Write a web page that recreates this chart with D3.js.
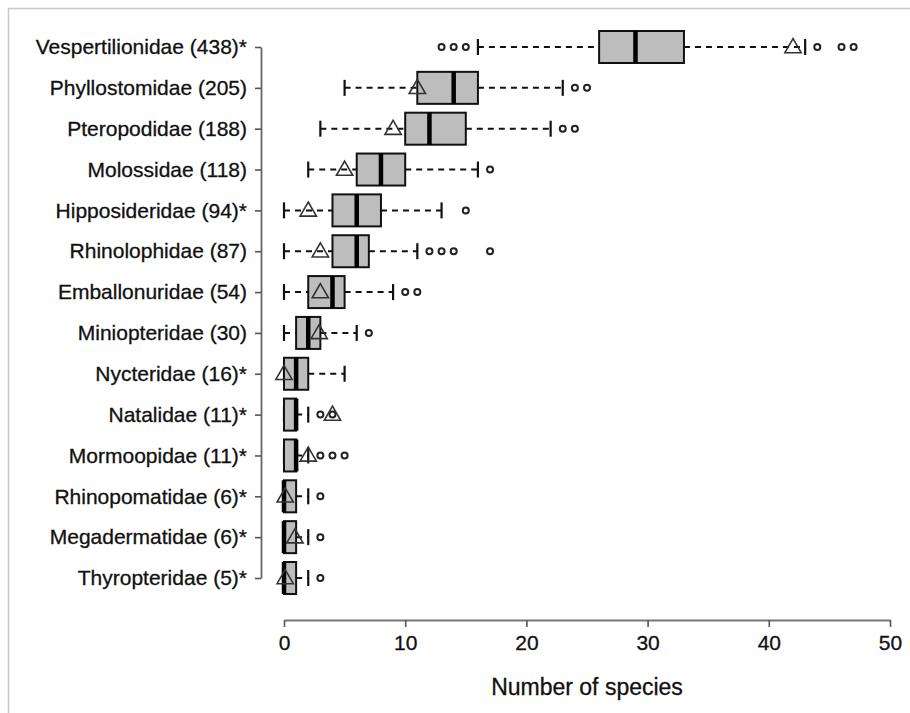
<!DOCTYPE html>
<html>
<head>
<meta charset="utf-8">
<script src="https://cdn.jsdelivr.net/npm/d3@7"></script>
<style>
  body { margin: 0; background: #fff; }
  svg { font-family: "Liberation Sans", Arial, sans-serif; }
</style>
</head>
<body>
<svg id="chart" width="910" height="713"></svg>
<script>
// families, top to bottom
const families = ["Vespertilionidae (438)*", "Phyllostomidae (205)", "Pteropodidae (188)",
  "Molossidae (118)", "Hipposideridae (94)*", "Rhinolophidae (87)", "Emballonuridae (54)",
  "Miniopteridae (30)", "Nycteridae (16)*", "Natalidae (11)*", "Mormoopidae (11)*",
  "Rhinopomatidae (6)*", "Megadermatidae (6)*", "Thyropteridae (5)*"];

const whiskerLow = [16, 5, 3, 2, 0, 0, 0, 0, 0, 0, 0, 0, 0, 0];
const q1 =         [26, 11, 10, 6, 4, 4, 2, 1, 0, 0, 0, 0, 0, 0];
const median =     [29, 14, 12, 8, 6, 6, 4, 2, 1, 1, 1, 0, 0, 0];
const q3 =         [33, 16, 15, 10, 8, 7, 5, 3, 2, 1, 1, 1, 1, 1];
const whiskerHigh = [43, 23, 22, 16, 13, 11, 9, 6, 5, 2, 2, 2, 2, 2];
const means =      [42, 11, 9, 5, 2, 3, 3, 2.9, 0, 4, 2, 0.1, 0.9, 0.1];
const outliers = [
  [13, 14, 15, 44, 46, 47],
  [24, 25],
  [23, 24],
  [17],
  [15],
  [12, 13, 14, 17],
  [10, 11],
  [7],
  [],
  [3, 4],
  [3, 4, 5],
  [3],
  [3],
  [3]
];
const xTicks = [0, 10, 20, 30, 40, 50];

const svg = d3.select("#chart");
const font = "Liberation Sans, Arial, sans-serif";

// light frame round the figure
svg.append("path")
  .attr("d", "M8.5,713V8.5H910")
  .attr("fill", "none")
  .attr("stroke", "#c8c8c8")
  .attr("stroke-width", 1.5);

const x = d3.scaleLinear().domain([0, 50]).range([284, 890]);
const y = d3.scalePoint().domain(families).range([47, 578]);
const boxH = 32;
const capH = 16;

const rows = families.map((f, i) => ({
  name: f, lo: whiskerLow[i], q1: q1[i], med: median[i], q3: q3[i],
  hi: whiskerHigh[i], mean: means[i], out: outliers[i]
}));

const g = svg.append("g");
const row = g.selectAll("g.row").data(rows).join("g")
  .attr("class", "row")
  .attr("transform", d => `translate(0,${y(d.name)})`);

// whiskers
row.append("line").attr("x1", d => x(d.lo)).attr("x2", d => x(d.q1))
  .attr("stroke", "#111").attr("stroke-width", 2).attr("stroke-dasharray", "6,5");
row.append("line").attr("x1", d => x(d.q3)).attr("x2", d => x(d.hi))
  .attr("stroke", "#111").attr("stroke-width", 2).attr("stroke-dasharray", "6,5");

// staples
row.append("line").attr("x1", d => x(d.lo)).attr("x2", d => x(d.lo))
  .attr("y1", -capH / 2).attr("y2", capH / 2).attr("stroke", "#111").attr("stroke-width", 2.2);
row.append("line").attr("x1", d => x(d.hi)).attr("x2", d => x(d.hi))
  .attr("y1", -capH / 2).attr("y2", capH / 2).attr("stroke", "#111").attr("stroke-width", 2.2);

// boxes
row.append("rect")
  .attr("x", d => x(d.q1)).attr("width", d => x(d.q3) - x(d.q1))
  .attr("y", -boxH / 2).attr("height", boxH)
  .attr("fill", "#bdbdbd").attr("stroke", "#111").attr("stroke-width", 2);

// median
row.append("line").attr("x1", d => x(d.med)).attr("x2", d => x(d.med))
  .attr("y1", -boxH / 2).attr("y2", boxH / 2).attr("stroke", "#000").attr("stroke-width", 4.5);

// outliers
row.selectAll("circle").data(d => d.out).join("circle")
  .attr("cx", v => x(v)).attr("r", 3)
  .attr("fill", "none").attr("stroke", "#222").attr("stroke-width", 2);

// means as open triangles
const tri = d3.symbol().type(d3.symbolTriangle).size(115);
row.append("path")
  .attr("d", tri)
  .attr("transform", d => `translate(${x(d.mean)},1)`)
  .attr("fill", "none").attr("stroke", "#333").attr("stroke-width", 1.6);

// y axis (bracket with ticks)
const yAxis = svg.append("g").attr("transform", "translate(261,0)")
  .call(d3.axisLeft(y).tickSize(6).tickPadding(8).tickSizeOuter(0));
yAxis.select(".domain").attr("stroke", "#666").attr("stroke-width", 1.8);
yAxis.selectAll(".tick line").attr("stroke", "#555").attr("stroke-width", 1.6);
yAxis.selectAll(".tick text").attr("font-size", 21).attr("fill", "#111")
  .attr("font-family", font).attr("stroke", "#111").attr("stroke-width", 0.3);

// x axis
const xAxis = svg.append("g").attr("transform", "translate(0,620)")
  .call(d3.axisBottom(x).tickValues(xTicks).tickSize(7).tickPadding(8).tickSizeOuter(0));
xAxis.select(".domain").attr("stroke", "#777").attr("stroke-width", 2);
xAxis.selectAll(".tick line").attr("stroke", "#555").attr("stroke-width", 1.6);
xAxis.selectAll(".tick text").attr("font-size", 21).attr("fill", "#111")
  .attr("font-family", font).attr("stroke", "#111").attr("stroke-width", 0.3);

svg.append("text")
  .attr("x", (x(0) + x(50)) / 2).attr("y", 695)
  .attr("text-anchor", "middle").attr("font-size", 23).attr("fill", "#111")
  .attr("stroke", "#111").attr("stroke-width", 0.3)
  .text("Number of species");
</script>
</body>
</html>
